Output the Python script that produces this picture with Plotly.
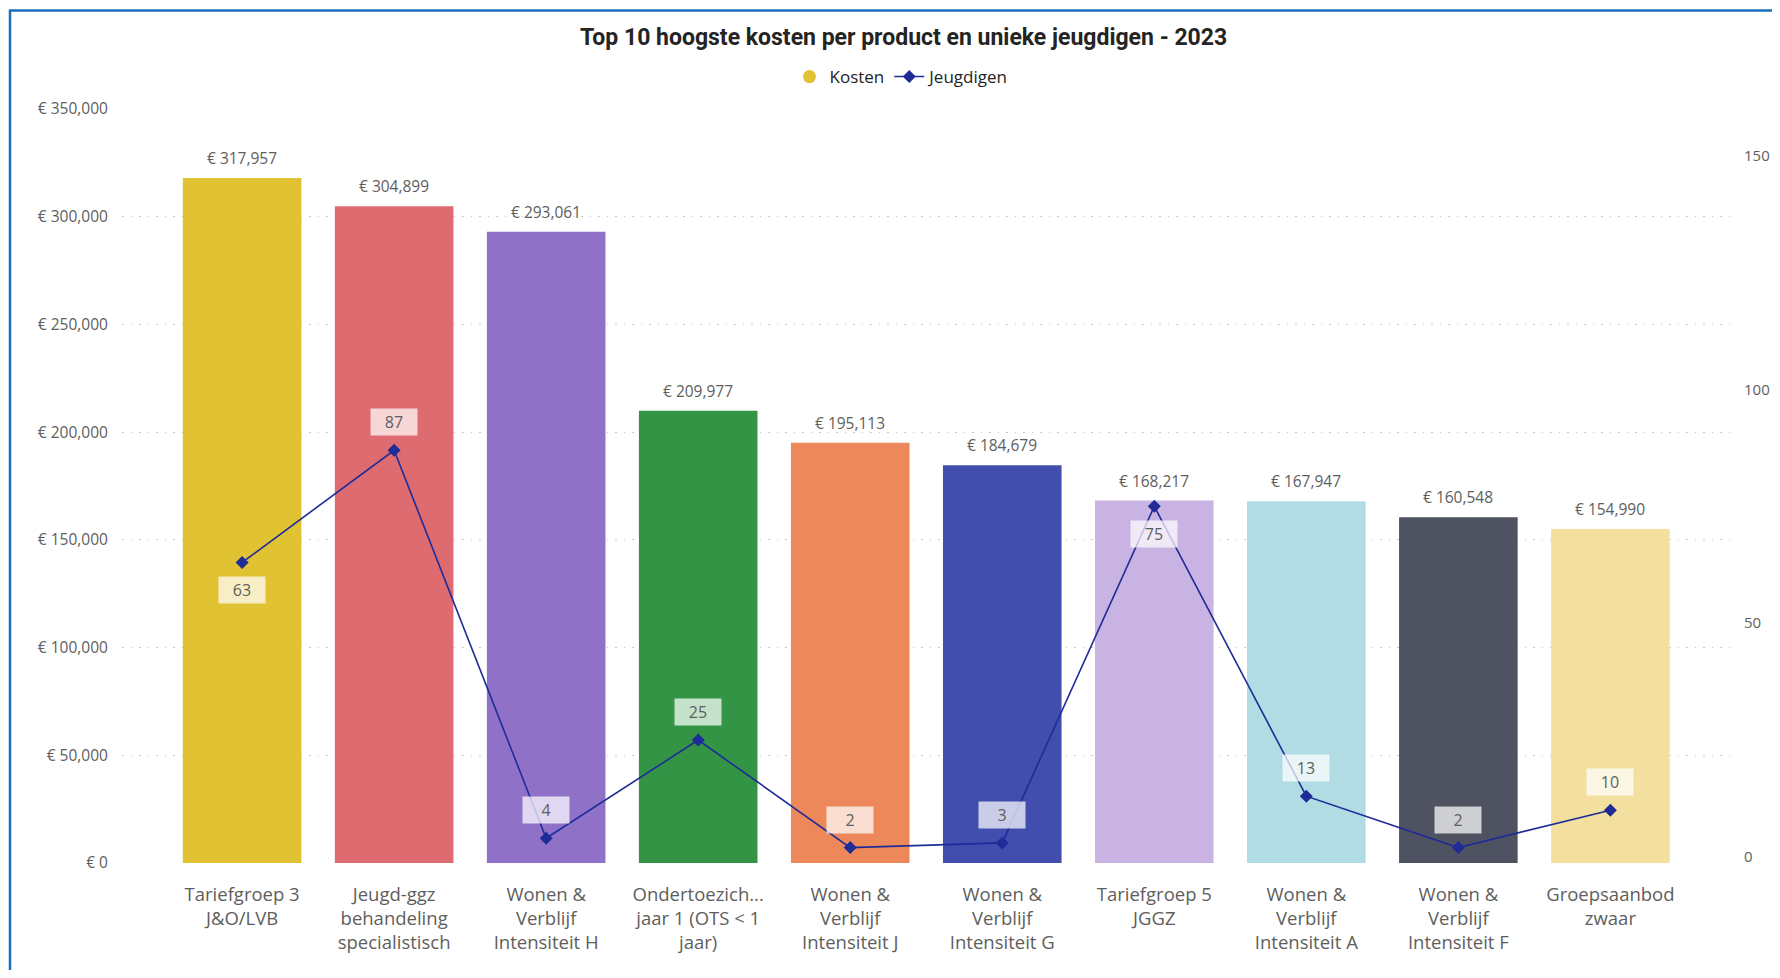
import plotly.graph_objects as go

# ---------------- data ----------------
categories = [
    "Tariefgroep 3 J&O/LVB",
    "Jeugd-ggz behandeling specialistisch",
    "Wonen & Verblijf Intensiteit H",
    "Ondertoezichtstelling jaar 1 (OTS < 1 jaar)",
    "Wonen & Verblijf Intensiteit J",
    "Wonen & Verblijf Intensiteit G",
    "Tariefgroep 5 JGGZ",
    "Wonen & Verblijf Intensiteit A",
    "Wonen & Verblijf Intensiteit F",
    "Groepsaanbod zwaar",
]
tick_labels = [
    "Tariefgroep 3<br>J&O/LVB",
    "Jeugd-ggz<br>behandeling<br>specialistisch",
    "Wonen &<br>Verblijf<br>Intensiteit H",
    "Ondertoezich...<br>jaar 1 (OTS &lt; 1<br>jaar)",
    "Wonen &<br>Verblijf<br>Intensiteit J",
    "Wonen &<br>Verblijf<br>Intensiteit G",
    "Tariefgroep 5<br>JGGZ",
    "Wonen &<br>Verblijf<br>Intensiteit A",
    "Wonen &<br>Verblijf<br>Intensiteit F",
    "Groepsaanbod<br>zwaar",
]
kosten = [317957, 304899, 293061, 209977, 195113, 184679, 168217, 167947, 160548, 154990]
jeugdigen = [63, 87, 4, 25, 2, 3, 75, 13, 2, 10]

# ---------------- style ----------------
bar_colors = ["#E0C232", "#DD6B70", "#8F72C8", "#329444", "#EC885A",
              "#414EAE", "#C9B3E3", "#B1DCE3", "#4F5361", "#F4E09E"]
line_color = "#1F2C98"
text_grey = "#605E5C"
title_color = "#252423"
label_below = {0, 6}  # line labels drawn below the marker

OFF = 8                     # page body margin
PAGE_W, PAGE_H = 1780, 978
W, H = PAGE_W - OFF, PAGE_H - 2 * OFF
# target page pixel geometry of the plot area
P_L, P_R, P_T, P_B = 122, 1732, 109, 863
ml, mr = P_L - OFF, W - (P_R - OFF)
mt, mb = P_T - OFF, H - (P_B - OFF)
pw, ph = W - ml - mr, H - mt - mb

def px_x(px):   # page pixel -> paper x
    return (px - OFF - ml) / pw

def px_y(py):   # page pixel -> paper y
    return (P_B - py) / ph

fig = go.Figure()

fig.add_trace(go.Bar(
    x=categories, y=kosten, name="Kosten",
    marker=dict(color=bar_colors, line=dict(width=0)),
    width=0.78, showlegend=False, hoverinfo="x+y",
))

# legend proxy for Kosten (circle symbol)
fig.add_trace(go.Scatter(
    x=[None], y=[None], mode="markers", name="Kosten",
    marker=dict(symbol="circle", size=13, color=bar_colors[0]),
))

fig.add_trace(go.Scatter(
    x=categories, y=jeugdigen, name="Jeugdigen", yaxis="y2",
    mode="lines+markers",
    line=dict(color=line_color, width=1.6),
    marker=dict(symbol="diamond", size=10, color=line_color),
))

annotations = []
for c, v in zip(categories, kosten):
    annotations.append(dict(
        x=c, y=v, xref="x", yref="y", text=f"€ {v:,.0f}",
        showarrow=False, yanchor="bottom", yshift=7,
        font=dict(family="Open Sans", size=15.5, color=text_grey),
    ))
for i, (c, v) in enumerate(zip(categories, jeugdigen)):
    below = i in label_below
    annotations.append(dict(
        x=c, y=v, xref="x", yref="y2", text=str(v),
        showarrow=False, yanchor="middle",
        yshift=-28 if below else 28,
        width=44, height=24, borderpad=1,
        bgcolor="rgba(255,255,255,0.72)",
        font=dict(family="Open Sans", size=16, color=text_grey),
    ))

shapes = [
    dict(type="line", xref="paper", yref="paper",
         x0=px_x(10), x1=px_x(10), y0=px_y(10), y1=px_y(PAGE_H + 10),
         line=dict(color="#1A6EBA", width=2.5)),
    dict(type="line", xref="paper", yref="paper",
         x0=px_x(9), x1=px_x(PAGE_W + 10), y0=px_y(10.5), y1=px_y(10.5),
         line=dict(color="#1A6EBA", width=2.5)),
]

fig.update_layout(
    width=W, height=H,
    margin=dict(l=ml, r=mr, t=mt, b=mb, autoexpand=False),
    paper_bgcolor="white", plot_bgcolor="white",
    font=dict(family="Open Sans", color=text_grey),
    title=dict(
        text="<b>Top 10 hoogste kosten per product en unieke jeugdigen - 2023</b>",
        x=px_x(796 * 1780 / 1568), xref="paper", xanchor="center",
        y=1 - (37 - OFF) / H, yref="container", yanchor="middle",
        font=dict(family="Roboto", size=23, color=title_color),
    ),
    legend=dict(
        orientation="h", x=px_x(902), xanchor="center",
        y=px_y(77), yanchor="middle",
        font=dict(family="Open Sans", size=17, color=title_color),
        itemwidth=30, tracegroupgap=0, itemclick=False,
    ),
    xaxis=dict(
        type="category", categoryorder="array", categoryarray=categories,
        tickmode="array", tickvals=categories, ticktext=tick_labels,
        range=[-0.79, 9.8],
        ticks="outside", ticklen=15, tickcolor="rgba(0,0,0,0)",
        tickfont=dict(family="Open Sans", size=18.5, color=text_grey),
        showgrid=False, showline=False, zeroline=False,
    ),
    yaxis=dict(
        range=[0, 350000], dtick=50000, tickprefix="€ ", tickformat=",",
        tickfont=dict(family="Open Sans", size=15.5, color=text_grey),
        showgrid=True, gridcolor="#C8C6C4", griddash="1.5px,7px", gridwidth=1,
        zeroline=False, showline=False,
        ticks="outside", ticklen=10, tickcolor="rgba(0,0,0,0)",
    ),
    yaxis2=dict(
        overlaying="y", side="right",
        range=[-1.3, 160], dtick=50,
        tickfont=dict(family="Open Sans", size=15, color=text_grey),
        showgrid=False, zeroline=False, showline=False,
        ticks="outside", ticklen=8, tickcolor="rgba(0,0,0,0)",
    ),
    annotations=annotations,
    shapes=shapes,
)

fig.write_html("out.html")
